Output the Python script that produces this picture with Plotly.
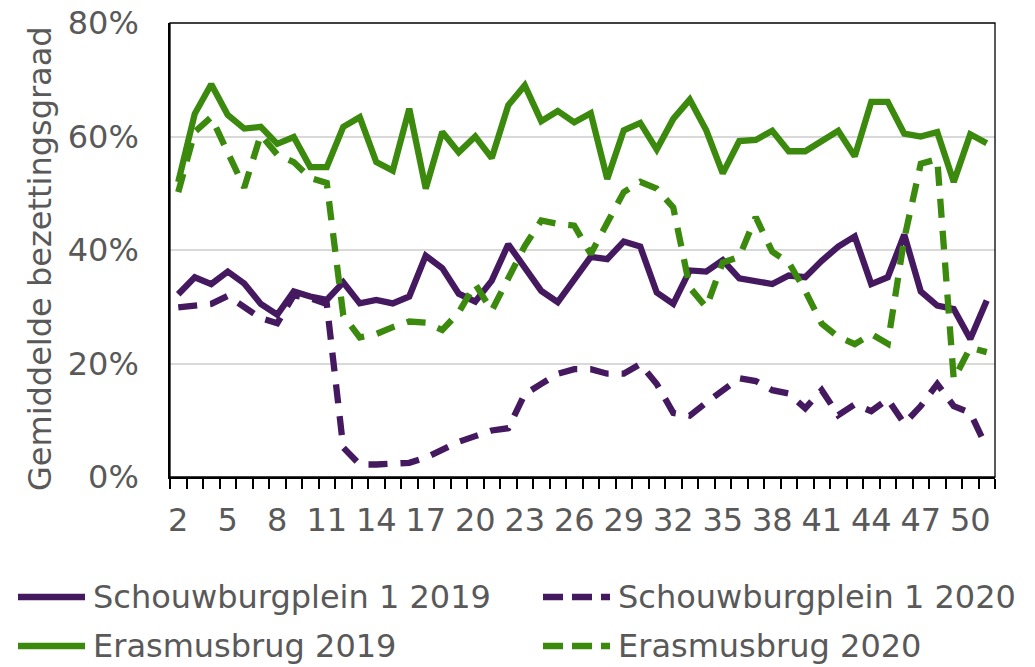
import plotly.graph_objects as go

# Weeknummers
weeks = list(range(2, 52))

# Gemiddelde bezettingsgraad per week (procent)
schouwburgplein_2019 = [
    32.2, 35.2, 34.0, 36.2, 34.1, 30.5, 28.6, 32.7, 31.8, 31.2,
    34.3, 30.6, 31.2, 30.6, 31.8, 39.0, 36.8, 32.3, 30.9, 34.6,
    41.0, 36.9, 32.8, 30.8, 34.9, 38.8, 38.4, 41.5, 40.6, 32.5,
    30.5, 36.4, 36.2, 38.2, 35.0, 34.6, 34.0, 35.5, 35.2, 38.1,
    40.6, 42.4, 34.0, 35.2, 42.7, 32.7, 30.2, 29.6, 24.3, 31.1,
]
schouwburgplein_2020 = [
    29.9, 30.2, 30.5, 31.9, 29.9, 28.0, 27.1, 32.0, 31.5, 30.5,
    5.2, 2.2, 2.2, 2.3, 2.5, 3.4, 4.9, 6.2, 7.2, 8.2,
    8.6, 14.6, 16.4, 18.2, 19.0, 19.0, 18.2, 18.2, 19.9, 16.4,
    11.3, 10.8, 13.1, 15.3, 17.4, 16.9, 15.3, 14.7, 12.1, 15.3,
    10.9, 12.8, 11.6, 13.7, 9.4, 12.5, 16.4, 12.5, 11.3, 5.2,
]
erasmusbrug_2019 = [
    52.0, 64.0, 69.2, 63.8, 61.4, 61.7, 58.7, 59.9, 54.6, 54.6,
    61.7, 63.4, 55.5, 54.0, 64.9, 50.8, 60.8, 57.2, 60.0, 56.2,
    65.5, 69.0, 62.7, 64.5, 62.5, 64.1, 52.5, 61.1, 62.4, 57.7,
    63.1, 66.5, 61.1, 53.5, 59.2, 59.4, 61.0, 57.4, 57.4, 59.3,
    61.0, 56.5, 66.1, 66.1, 60.5, 60.0, 60.8, 52.0, 60.4, 58.8,
]
erasmusbrug_2020 = [
    50.2, 60.8, 63.4, 57.2, 51.0, 60.3, 56.8, 55.5, 52.7, 51.8,
    28.5, 24.6, 25.2, 26.4, 27.4, 27.2, 25.9, 29.0, 34.0, 29.3,
    35.0, 40.7, 45.2, 44.6, 44.3, 39.3, 44.8, 50.2, 52.0, 50.8,
    47.5, 33.4, 29.9, 37.8, 38.8, 45.8, 39.7, 37.8, 32.8, 27.0,
    24.7, 23.4, 25.2, 23.5, 42.0, 55.2, 56.0, 17.2, 22.8, 22.0,
]

# Labels op de x-as: elke derde week
x_tick_weeks = list(range(2, 51, 3))
y_ticks = [0, 0.2, 0.4, 0.6, 0.8]

PURPLE = "#45195f"
GREEN = "#3b8a0e"
TEXT = "#595959"
FONT = "DejaVu Sans"
FS = 32
LW = 6.3
DASH = "19px,13px"

series = [
    ("Schouwburgplein 1 2019", schouwburgplein_2019, PURPLE, "solid"),
    ("Schouwburgplein 1 2020", schouwburgplein_2020, PURPLE, DASH),
    ("Erasmusbrug 2019", erasmusbrug_2019, GREEN, "solid"),
    ("Erasmusbrug 2020", erasmusbrug_2020, GREEN, DASH),
]

fig = go.Figure()
for name, vals, color, dash in series:
    fig.add_trace(go.Scatter(
        x=weeks, y=[v / 100 for v in vals], name=name, mode="lines",
        line=dict(color=color, width=LW, dash=dash),
        showlegend=False,
    ))

W, H = 1035, 667
ML, MR, MT, MB = 170, 40, 23, 190
pw, ph = W - ML - MR, H - MT - MB


def px_x(px):
    return (px - ML) / pw


def px_y(py):
    return (H - MB - py) / ph


# Legenda in twee kolommen onder de grafiek
legend_items = [
    (series[0], 15, 597),
    (series[1], 540, 597),
    (series[2], 15, 646),
    (series[3], 540, 646),
]
shapes = []
annotations = []
for (name, _, color, dash), lx, ly in legend_items:
    shapes.append(dict(
        type="line", xref="paper", yref="paper",
        x0=px_x(lx + 3), x1=px_x(lx + 70), y0=px_y(ly), y1=px_y(ly),
        line=dict(color=color, width=LW,
                  dash="solid" if dash == "solid" else "20px,9px"),
    ))
    annotations.append(dict(
        xref="paper", yref="paper", x=px_x(lx + 76), y=px_y(ly),
        xanchor="left", yanchor="middle", showarrow=False, text=name,
        font=dict(family=FONT, size=FS, color=TEXT),
    ))

# Kader rond het plotgebied
shapes.append(dict(type="rect", xref="paper", yref="paper", x0=0, x1=1, y0=0, y1=1,
                   line=dict(color="#000000", width=1.3), layer="above"))

annotations.append(dict(
    xref="paper", yref="paper", x=px_x(40), y=px_y(259),
    xanchor="center", yanchor="middle", showarrow=False, textangle=-90,
    text="Gemiddelde bezettingsgraad",
    font=dict(family=FONT, size=FS, color=TEXT),
))

fig.update_layout(
    width=W, height=H,
    margin=dict(l=ML, r=MR, t=MT, b=MB, pad=0, autoexpand=False),
    paper_bgcolor="white", plot_bgcolor="white",
    font=dict(family=FONT, size=FS, color=TEXT),
    shapes=shapes, annotations=annotations,
    showlegend=False,
)
fig.update_xaxes(
    range=[1.5, 51.5], tickmode="array", tickvals=x_tick_weeks,
    ticktext=[str(w) for w in x_tick_weeks],
    ticks="", showgrid=False, zeroline=False, automargin=False,
    showline=True, linecolor="#000000", linewidth=2,
    ticklabelstandoff=14,
    tickfont=dict(family=FONT, size=FS, color=TEXT),
    minor=dict(tickmode="linear", tick0=1.5, dtick=1, ticks="outside",
               ticklen=10, tickwidth=2, tickcolor="#000000", showgrid=False),
)
fig.update_yaxes(
    range=[0, 0.8], tickmode="array", tickvals=y_ticks,
    ticktext=[f"{int(round(v * 100))}%" for v in y_ticks],
    ticks="", showgrid=True, gridcolor="#d9d9d9", gridwidth=1.5,
    zeroline=False, showline=True, linecolor="#000000", linewidth=1.5,
    automargin=False, ticklabelstandoff=23,
    tickfont=dict(family=FONT, size=FS, color=TEXT),
)

fig.write_html("out.html", config={"displayModeBar": False})
